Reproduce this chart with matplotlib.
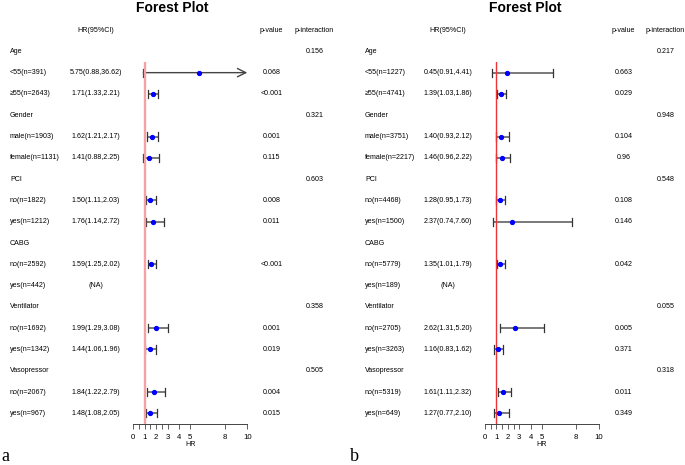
import matplotlib
matplotlib.use("Agg")
from matplotlib import pyplot as plt
from matplotlib.transforms import blended_transform_factory
import numpy as np

plt.rcParams['font.family'] = ['Liberation Sans', 'DejaVu Sans']

W, H = 685, 465

# row labels (same structure in both panels)
groups = ["Age", "Gender", "PCI", "CABG", "Ventilator", "Vasopressor"]
sub_a = [["<55(n=391)", "\u226555(n=2643)"], ["male(n=1903)", "female(n=1131)"],
         ["no(n=1822)", "yes(n=1212)"], ["no(n=2592)", "yes(n=442)"],
         ["no(n=1692)", "yes(n=1342)"], ["no(n=2067)", "yes(n=967)"]]
sub_b = [["<55(n=1227)", "\u226555(n=4741)"], ["male(n=3751)", "female(n=2217)"],
         ["no(n=4468)", "yes(n=1500)"], ["no(n=5779)", "yes(n=189)"],
         ["no(n=2705)", "yes(n=3263)"], ["no(n=5319)", "yes(n=649)"]]

# text columns
hr_txt_a = ["5.75(0.88,36.62)", "1.71(1.33,2.21)", "1.62(1.21,2.17)", "1.41(0.88,2.25)",
            "1.50(1.11,2.03)", "1.76(1.14,2.72)", "1.59(1.25,2.02)", "(NA)",
            "1.99(1.29,3.08)", "1.44(1.06,1.96)", "1.84(1.22,2.79)", "1.48(1.08,2.05)"]
hr_txt_b = ["0.45(0.91,4.41)", "1.39(1.03,1.86)", "1.40(0.93,2.12)", "1.46(0.96,2.22)",
            "1.28(0.95,1.73)", "2.37(0.74,7.60)", "1.35(1.01,1.79)", "(NA)",
            "2.62(1.31,5.20)", "1.16(0.83,1.62)", "1.61(1.11,2.32)", "1.27(0.77,2.10)"]
pval_a = ["0.068", "<0.001", "0.001", "0.115", "0.008", "0.011", "<0.001", "",
          "0.001", "0.019", "0.004", "0.015"]
pval_b = ["0.663", "0.029", "0.104", "0.96", "0.108", "0.146", "0.042", "",
          "0.005", "0.371", "0.011", "0.349"]
pint_a = ["0.156", "0.321", "0.603", "", "0.358", "0.505"]
pint_b = ["0.217", "0.948", "0.548", "", "0.055", "0.318"]

# plotted estimates (NaN = not drawn)
est_a = [5.75, 1.71, 1.62, 1.41, 1.50, 1.76, 1.59, np.nan, 1.99, 1.44, 1.84, 1.48]
lo_a = [0.88, 1.33, 1.21, 0.88, 1.11, 1.14, 1.25, np.nan, 1.29, 1.06, 1.22, 1.08]
hi_a = [36.62, 2.21, 2.17, 2.25, 2.03, 2.72, 2.02, np.nan, 3.08, 1.96, 2.79, 2.05]
est_b = [1.90, 1.39, 1.40, 1.46, 1.28, 2.37, 1.35, np.nan, 2.62, 1.16, 1.61, 1.27]
lo_b = [0.59, 1.03, 0.93, 0.96, 0.95, 0.74, 1.01, np.nan, 1.31, 0.83, 1.11, 0.77]
hi_b = [5.96, 1.86, 2.12, 2.22, 1.73, 7.60, 1.79, np.nan, 5.20, 1.62, 2.32, 2.10]

xticks = [0, 0.5, 1, 1.5, 2, 2.5, 3, 4, 5, 8, 10]
xticklabels = ["0", "", "1", "", "2", "", "3", "4", "5", "8", "10"]


def fx(x):
    return x / W


def fy(y):
    return 1 - y / H


fig = plt.figure(figsize=(6.85, 4.65), dpi=100)

FS = 5.1


def panel(x0, x10, col_lab, col_hr, col_p, col_pi, title_x, sub, hr_txt, pval, pint,
          est, lo, hi, ref_color, ref_lw, letter, letter_x):
    # row 0 at y=52px, 21.24px per row; axis from row 0.5 to row 17.5
    ax = fig.add_axes([fx(x0), fy(424), fx(x10) - fx(x0), fy(62) - fy(424)])
    ax.set_xlim(0, 10)
    ax.set_ylim(17.5, 0.5)
    for s in ["top", "left", "right"]:
        ax.spines[s].set_visible(False)
    ax.spines["bottom"].set_color("#444444")
    ax.spines["bottom"].set_linewidth(0.7)
    ax.set_yticks([])
    ax.set_xticks(xticks)
    ax.set_xticklabels(xticklabels, fontsize=5.6)
    ax.tick_params(axis="x", length=3.3, width=0.6, color="#444444", pad=3.8)
    ax.set_xlabel("HR", fontsize=FS, labelpad=0.3)
    ax.patch.set_alpha(0)

    tr = blended_transform_factory(fig.transFigure, ax.transData)
    # header
    ax.text(fx(col_hr), -1, "HR(95%CI)", transform=tr, ha="center", va="center", fontsize=FS)
    ax.text(fx(col_p), -1, "p-value", transform=tr, ha="center", va="center", fontsize=FS)
    ax.text(fx(col_pi), -1, "p-interaction", transform=tr, ha="center", va="center", fontsize=FS)
    fig.text(fx(title_x), fy(7.5), "Forest Plot", ha="center", va="center",
             fontsize=10, fontweight="bold")

    row = 0
    k = 0
    for g in range(len(groups)):
        ax.text(fx(col_lab), row, groups[g], transform=tr, ha="left", va="center", fontsize=FS)
        ax.text(fx(col_pi), row, pint[g], transform=tr, ha="center", va="center", fontsize=FS)
        row += 1
        for lab in sub[g]:
            ax.text(fx(col_lab), row, lab, transform=tr, ha="left", va="center", fontsize=FS)
            ax.text(fx(col_hr), row, hr_txt[k], transform=tr, ha="center", va="center", fontsize=FS)
            ax.text(fx(col_p), row, pval[k], transform=tr, ha="center", va="center", fontsize=FS)
            if not np.isnan(est[k]):
                top = min(hi[k], 10)
                if hi[k] > 10:
                    ax.annotate("", xy=(10, row), xytext=(lo[k], row),
                                arrowprops=dict(arrowstyle="->,head_length=0.6,head_width=0.3",
                                                color="#444444", lw=1.0, shrinkA=0, shrinkB=0),
                                annotation_clip=False)
                else:
                    ax.plot([lo[k], top], [row, row], color="#555555", lw=1.1,
                            solid_capstyle="butt", clip_on=False)
                    ax.plot([top, top], [row - 0.19, row + 0.19], color="#333333", lw=0.9,
                            clip_on=False)
                ax.plot([lo[k], lo[k]], [row - 0.19, row + 0.19], color="#333333", lw=0.9,
                        clip_on=False)
                ax.plot(est[k], row, "o", color="blue", ms=2.8, mec="blue", zorder=5,
                        clip_on=False)
            k += 1
            row += 1

    ax.axvline(1, color=ref_color, lw=ref_lw, zorder=4)
    fig.text(fx(letter_x), fy(461), letter, ha="left", va="baseline",
             fontsize=13, family="Liberation Serif")


panel(133.3, 247.3, 10, 96, 271.5, 314.5, 172.7, sub_a, hr_txt_a, pval_a, pint_a,
      est_a, lo_a, hi_a, "#F3A3A3", 1.7, "a", 1)
panel(485, 599, 365, 448, 623.5, 665.5, 525, sub_b, hr_txt_b, pval_b, pint_b,
      est_b, lo_b, hi_b, "#EE3535", 1.0, "b", 350)

fig.savefig("out.png", dpi=100)
